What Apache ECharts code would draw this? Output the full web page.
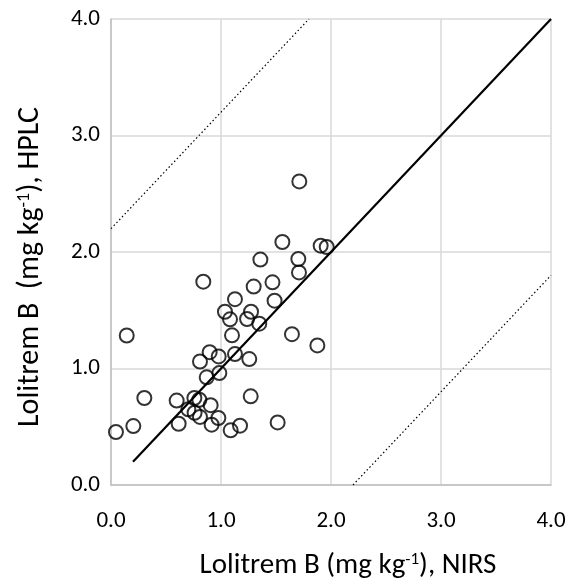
<!DOCTYPE html>
<html>
<head>
<meta charset="utf-8">
<script src="https://cdn.jsdelivr.net/npm/echarts@6/dist/echarts.min.js"></script>
<style>
html,body{margin:0;padding:0;background:#fff;}
#chart{width:570px;height:587px;}
</style>
</head>
<body>
<div id="chart"></div>
<script>
// NIRS (x) vs HPLC (y) values, mg/kg
var nirs = [0.045,0.203,0.303,0.143,0.615,0.597,0.758,0.803,0.703,0.760,0.809,0.906,0.976,0.915,1.088,1.173,1.270,1.515,0.870,0.985,0.809,0.897,0.979,1.127,1.257,1.100,1.645,1.876,1.712,1.558,1.906,1.961,1.358,1.703,1.709,0.839,1.297,1.468,1.487,1.127,1.036,1.273,1.082,1.237,1.348];
var hplc = [0.455,0.506,0.747,1.283,0.526,0.725,0.747,0.732,0.650,0.620,0.584,0.685,0.575,0.518,0.469,0.509,0.761,0.537,0.924,0.961,1.060,1.140,1.104,1.124,1.081,1.285,1.295,1.198,2.606,2.086,2.054,2.043,1.935,1.940,1.825,1.745,1.703,1.740,1.582,1.595,1.487,1.487,1.422,1.425,1.385];
// 1:1 line and +/- 2.2 limits
var lineX = [0.2, 4.0];
var lineY = [0.2, 4.0];
var upperX = [0.0, 1.8];
var upperY = [2.2, 4.0];
var lowerX = [2.2, 4.0];
var lowerY = [0.0, 1.8];
var ticks = [0, 1, 2, 3, 4];

function pairs(a, b) { return a.map(function (v, i) { return [v, b[i]]; }); }

var FONT = "Carlito, Calibri, Lato, sans-serif";
var chart = echarts.init(document.getElementById('chart'), null, {renderer: 'canvas'});
chart.setOption({
  animation: false,
  backgroundColor: '#fff',
  grid: {left: 111, top: 19, right: 19, bottom: 102, containLabel: false},
  xAxis: {
    type: 'value', min: ticks[0], max: ticks[ticks.length - 1], interval: 1,
    name: '{t|Lolitrem B (mg kg}{s|-1}{t|), NIRS}',
    nameLocation: 'middle', nameGap: 66,
    nameTextStyle: {padding: [0, 0, 0, 34], rich: {t: {fontFamily: FONT, fontSize: 29, color: '#000'}, s: {fontFamily: FONT, fontSize: 17, color: '#000', verticalAlign: 'top', padding: [0, 0, 10, 0]}}},
    axisLine: {show: true, lineStyle: {color: '#bfbfbf', width: 1.5}},
    axisTick: {show: false},
    splitLine: {show: true, lineStyle: {color: '#d9d9d9', width: 1.5}},
    axisLabel: {formatter: function (v) { return v.toFixed(1); }, fontFamily: FONT, fontSize: 23, color: '#000', margin: 25}
  },
  yAxis: {
    type: 'value', min: ticks[0], max: ticks[ticks.length - 1], interval: 1,
    name: '{t|Lolitrem B  (mg kg}{s|-1}{t|), HPLC}',
    nameLocation: 'middle', nameGap: 66,
    nameTextStyle: {padding: [0, 30, 0, 0], rich: {t: {fontFamily: FONT, fontSize: 30, color: '#000'}, s: {fontFamily: FONT, fontSize: 18, color: '#000', verticalAlign: 'top', padding: [0, 0, 10, 0]}}},
    axisLine: {show: true, lineStyle: {color: '#bfbfbf', width: 1.5}},
    axisTick: {show: false},
    splitLine: {show: true, lineStyle: {color: '#d9d9d9', width: 1.5}},
    axisLabel: {formatter: function (v) { return v.toFixed(1); }, fontFamily: FONT, fontSize: 23, color: '#000', margin: 11}
  },
  series: [
    {type: 'line', data: pairs(upperX, upperY), symbol: 'none', lineStyle: {color: '#000', width: 1.2, type: [1.5, 2.5]}, z: 2},
    {type: 'line', data: pairs(lowerX, lowerY), symbol: 'none', lineStyle: {color: '#000', width: 1.2, type: [1.5, 2.5]}, z: 2},
    {type: 'line', data: pairs(lineX, lineY), symbol: 'none', lineStyle: {color: '#000', width: 2.2}, z: 3},
    {type: 'scatter', data: pairs(nirs, hplc), symbol: 'circle', symbolSize: 14,
     itemStyle: {color: 'rgba(255,255,255,0)', borderColor: '#000', borderWidth: 2}, z: 4}
  ]
});
</script>
</body>
</html>
